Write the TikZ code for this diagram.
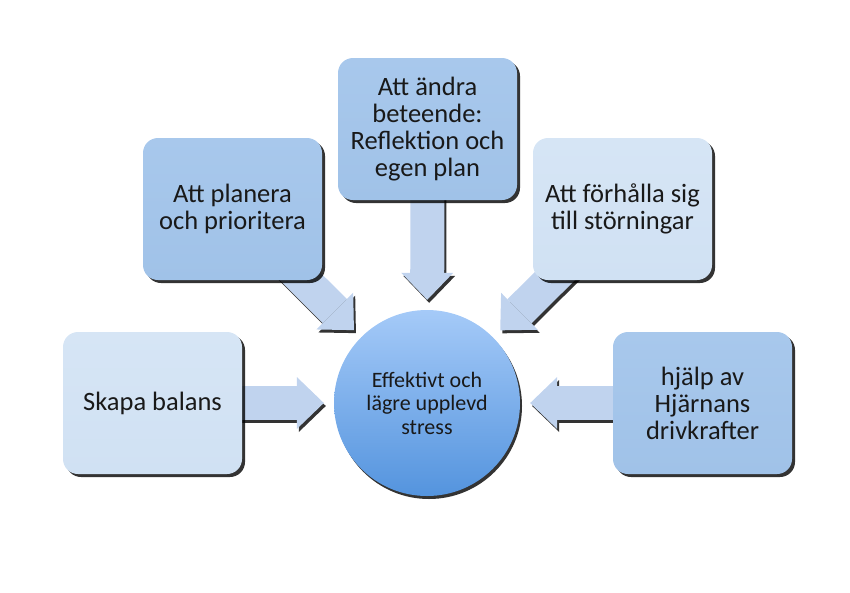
\documentclass[tikz,border=0pt]{standalone}
\usepackage{fontspec}
\setmainfont{Carlito}
\usepackage{xcolor}
\usepackage{tikz}
\usetikzlibrary{arrows.meta,shadows,backgrounds}

\definecolor{boxmid}{RGB}{160,194,232}
\definecolor{boxmidtop}{RGB}{168,200,236}
\definecolor{boxlight}{RGB}{208,225,243}
\definecolor{boxlighttop}{RGB}{214,229,245}
\definecolor{flowblue}{RGB}{192,211,238}
\definecolor{balltop}{RGB}{165,202,248}
\definecolor{ballbottom}{RGB}{84,148,222}

\begin{document}
\begin{tikzpicture}[x=1pt,y=1pt]
  \tikzstyle{block}=[rounded corners=15pt,align=center,minimum width=179pt,minimum height=142pt,
    inner sep=4pt,font=\fontsize{26.5}{27}\selectfont,text=black!90,
    drop shadow={shadow xshift=3pt,shadow yshift=-3pt,fill=black,opacity=.8}]
  \tikzstyle{darkblock}=[block,top color=boxmidtop,bottom color=boxmid]
  \tikzstyle{lightblock}=[block,top color=boxlighttop,bottom color=boxlight]
  \tikzstyle{flow}=[line width=34pt,shorten >=10pt,
    -{Triangle[width=52pt,length=27pt,line width=0pt]}]
  \useasboundingbox (0,0) rectangle (850,-592);
  \node[circle,minimum size=186pt,align=center,top color=balltop,bottom color=ballbottom,
    font=\fontsize{22}{23.5}\selectfont,text=black!90,
    drop shadow={shadow xshift=2pt,shadow yshift=-3pt,fill=black,opacity=.8}] (centre) at (427,-403)
    {Effektivt och\\lägre upplevd\\stress};
  \node[darkblock] (change) at (427.5,-129) {Att ändra\\beteende:\\Reflektion och\\egen plan};
  \node[darkblock] (plan) at (232.5,-209) {Att planera\\och prioritera};
  \node[lightblock] (disturb) at (622.5,-209) {Att förhålla sig\\till störningar};
  \node[lightblock] (balance) at (152.5,-403) {Skapa balans};
  \node[darkblock] (drive) at (702.5,-403) {hjälp av\\Hjärnans\\drivkrafter};
  \begin{scope}[on background layer]
    \foreach \a in {change,plan,disturb,balance,drive}{
      \draw[flow,draw=black!80,transform canvas={xshift=2pt,yshift=-3pt}] (\a.center) -- (centre);
      \draw[flow,draw=flowblue] (\a.center) -- (centre);
    }
  \end{scope}
\end{tikzpicture}
\end{document}
